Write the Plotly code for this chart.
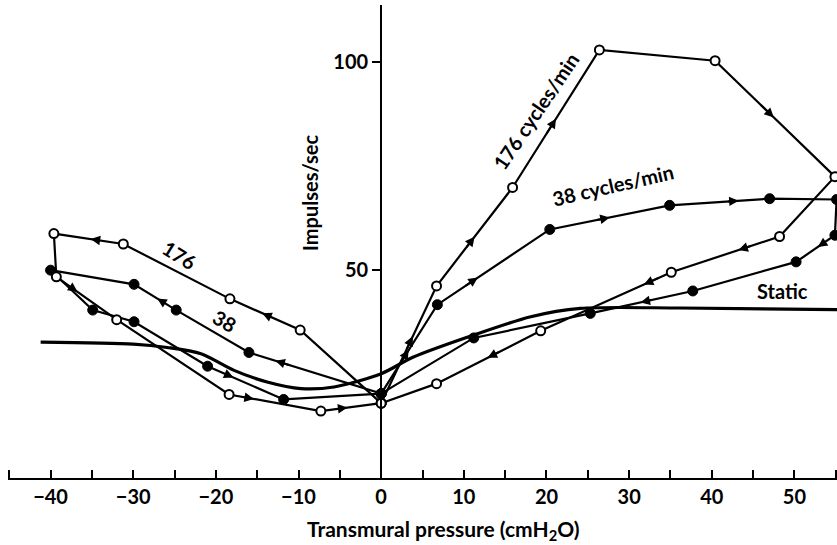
import plotly.graph_objects as go

# ---- data ----
x176 = [0, 6.7, 15.9, 26.4, 40.4, 54.9, 48.2, 35.1, 19.3, 6.7, 0,
        -9.8, -18.3, -31.2, -39.6, -39.3, -32.0, -18.4, -7.3, 0]
y176 = [18, 46.2, 69.9, 103, 100.4, 72.5, 58.1, 49.5, 35.4, 22.7, 18,
        35.6, 43.1, 56.3, 58.8, 48.4, 38.1, 20.1, 16.1, 18]

x38 = [0, 6.8, 20.4, 34.9, 47.0, 55.1, 54.9, 50.2, 37.7, 25.3, 11.2, 0,
       -16.0, -24.8, -29.9, -40.0, -34.9, -29.9, -21.0, -11.8, 0]
y38 = [20.3, 41.7, 59.8, 65.6, 67.2, 67.0, 58.4, 52.0, 45.0, 39.6, 33.7, 20.3,
       30.2, 40.4, 46.6, 50.0, 40.4, 37.6, 26.9, 18.9, 20.3]

static_x = [-41.2, -30, -25.9, -21.8, -17.8, -13.8, -9.7, -5.7, 0, 3.9, 11.2, 18.1, 24.1, 36.2, 55.2]
static_y = [32.7, 32.2, 31.4, 29.9, 25.9, 23.1, 21.5, 21.9, 25.1, 29.1, 34.4, 38.8, 40.8, 40.9, 40.5]

# arrows: (segment index, fraction along segment)
arrows176 = [(0, 0.57), (1, 0.5), (2, 0.5), (4, 0.49), (6, 0.38), (7, 0.21), (8, 0.51),
             (11, 0.54), (13, 0.47), (15, 0.35), (17, 0.27), (18, 0.44)]
arrows38 = [(0, 0.49), (1, 0.36), (2, 0.5), (3, 0.69), (6, 0.44), (8, 0.51),
            (11, 0.8), (13, 0.45), (18, 0.34)]

x_ticks = list(range(-45, 56, 5))
x_ticktext = [("\u2212" + str(-v) if v < 0 else str(v)) if v % 10 == 0 and v >= -40 else "" for v in x_ticks]
y_ticks = [50, 100]
y_ticktext = ["50", "100"]

XR = [-45.15, 55.15]
YR = [0, 113.8]

FONT = dict(family="Lato, 'Open Sans', sans-serif", color="black", size=20, weight="bold")

fig = go.Figure()

fig.add_trace(go.Scatter(x=static_x, y=static_y, mode="lines",
                         line=dict(color="black", width=3.2, shape="spline", smoothing=0.8),
                         hoverinfo="skip", showlegend=False))

fig.add_trace(go.Scatter(x=x38, y=y38, mode="lines+markers",
                         line=dict(color="black", width=2.2),
                         marker=dict(symbol="circle", size=10, color="black",
                                     line=dict(color="black", width=1)),
                         showlegend=False))

fig.add_trace(go.Scatter(x=x176, y=y176, mode="lines+markers",
                         line=dict(color="black", width=2.2),
                         marker=dict(symbol="circle", size=9, color="white",
                                     line=dict(color="black", width=2)),
                         showlegend=False))

annotations = []


def add_arrows(xs, ys, arrows):
    for i, f in arrows:
        x0, y0, x1, y1 = xs[i], ys[i], xs[i + 1], ys[i + 1]
        hx, hy = x0 + f * (x1 - x0), y0 + f * (y1 - y0)
        tx, ty = hx - 0.12 * (x1 - x0), hy - 0.12 * (y1 - y0)
        annotations.append(dict(x=hx, y=hy, ax=tx, ay=ty, xref="x", yref="y",
                                axref="x", ayref="y", text="", showarrow=True,
                                arrowhead=2, arrowsize=0.95, arrowwidth=2,
                                arrowcolor="black", standoff=0, startstandoff=0))


add_arrows(x176, y176, arrows176)
add_arrows(x38, y38, arrows38)

labels = [
    ("176 cycles/min", 18.7, 88.3, -56),
    ("38 cycles/min", 28.0, 70.5, -13),
    ("176", -24.4, 53.6, 32),
    ("38", -18.9, 37.7, 30),
    ("Static", 48.6, 45.0, 0),
]
for t, x, y, a in labels:
    annotations.append(dict(x=x, y=y, xref="x", yref="y", text=t, showarrow=False,
                            textangle=a, font=FONT, xanchor="center", yanchor="middle"))

annotations.append(dict(x=-8.53, y=68.5, xref="x", yref="y", text="Impulses/sec",
                        showarrow=False, textangle=-90, font=FONT))
annotations.append(dict(x=7.56, y=-0.11, xref="x", yref="paper",
                        text="Transmural pressure (cmH<sub>2</sub>O)",
                        showarrow=False, font=dict(FONT, size=21), yanchor="middle"))

ypos = (0 - XR[0]) / (XR[1] - XR[0])

fig.update_layout(
    width=837, height=545, autosize=False,
    margin=dict(l=8, r=0, t=5, b=67),
    paper_bgcolor="white", plot_bgcolor="white",
    font=FONT,
    annotations=annotations,
    xaxis=dict(range=XR, showgrid=False, zeroline=False, showline=True,
               linecolor="black", linewidth=2, ticks="inside", ticklen=8,
               tickwidth=2, tickcolor="black", tickvals=x_ticks, ticktext=x_ticktext,
               tickfont=FONT),
    yaxis=dict(range=YR, showgrid=False, zeroline=False, showline=True,
               linecolor="black", linewidth=2, ticks="outside", ticklen=8,
               tickwidth=2, tickcolor="black", tickvals=y_ticks, ticktext=y_ticktext,
               anchor="free", position=ypos, tickfont=FONT),
)

fig.write_html("out.html")
